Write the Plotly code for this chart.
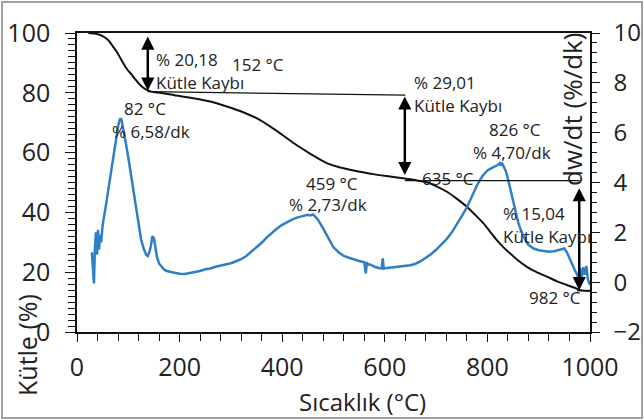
import plotly.graph_objects as go

# ---- data ----
tg_temp = [22, 35, 51, 62, 70, 80, 90, 98, 107, 115, 123, 130, 137, 145, 152, 162, 190, 227, 260, 292,
           325, 357, 390, 422, 455, 487, 513, 552, 577, 610, 639, 660, 682, 700, 721, 740, 760, 776,
           792, 805, 818, 831, 844, 860, 877, 896, 916, 935, 955, 970, 981, 990, 1000]
tg_mass = [100, 99.8, 98.9, 97.4, 95.5, 93.0, 90.0, 87.8, 86.0, 84.2, 82.6, 81.6, 80.9, 80.4, 80.2, 80.0,
           79.2, 78.2, 77.1, 75.4, 73.4, 70.9, 67.2, 63.2, 59.6, 56.5, 55.0, 53.6, 52.8, 52.0, 51.3, 50.8,
           50.1, 48.8, 46.9, 44.6, 41.9, 39.2, 36.4, 33.6, 30.8, 28.4, 26.3, 23.9, 21.8, 20.0, 18.5, 17.0,
           15.7, 14.8, 14.0, 13.8, 13.8]

dtg_temp = [29, 31, 33, 35, 37, 39, 41, 43, 45, 47, 50, 55, 60, 65, 70, 75, 80, 83, 85, 87, 90, 95, 100,
            105, 110, 115, 120, 125, 130, 135, 138, 141, 144, 147, 150, 153, 156, 160, 165, 170, 175, 180,
            190, 200, 210, 220, 230, 240, 250, 260, 270, 280, 290, 300, 310, 320, 330, 340, 350, 360, 370,
            380, 390, 400, 410, 420, 430, 440, 450, 455, 460, 465, 470, 480, 490, 500, 510, 520, 530, 540,
            550, 560, 563, 565, 567, 570, 580, 590, 594, 596, 598, 600, 610, 620, 630, 640, 650, 660, 670,
            680, 690, 700, 710, 720, 730, 740, 750, 760, 770, 780, 790, 800, 810, 815, 820, 824, 826, 828,
            832, 836, 840, 845, 850, 855, 860, 865, 870, 875, 880, 890, 900, 910, 920, 930, 940, 945, 950,
            955, 960, 965, 970, 975, 978, 981, 984, 987, 990, 993, 996, 1000]
dtg_rate = [1.2, 0.6, -0.05, 1.4, 2.0, 1.1, 2.1, 1.3, 1.9, 1.6, 2.3, 2.9, 3.6, 4.3, 5.0, 5.7, 6.25, 6.5,
            6.58, 6.5, 6.2, 5.6, 5.0, 4.3, 3.6, 2.9, 2.2, 1.7, 1.35, 1.1, 1.05, 1.2, 1.45, 1.85, 1.75, 1.35,
            1.0, 0.75, 0.6, 0.5, 0.45, 0.42, 0.38, 0.34, 0.33, 0.37, 0.4, 0.45, 0.52, 0.55, 0.62, 0.66, 0.7,
            0.76, 0.84, 0.92, 1.05, 1.22, 1.4, 1.58, 1.8, 1.98, 2.15, 2.3, 2.42, 2.52, 2.6, 2.66, 2.7, 2.68,
            2.72, 2.62, 2.5, 2.15, 1.75, 1.4, 1.2, 1.05, 0.98, 0.9, 0.85, 0.8, 0.35, 0.8, 0.7, 0.72, 0.62,
            0.56, 0.55, 0.95, 0.55, 0.56, 0.58, 0.6, 0.62, 0.65, 0.68, 0.74, 0.84, 0.98, 1.12, 1.3, 1.5,
            1.72, 1.98, 2.3, 2.65, 3.0, 3.45, 3.9, 4.25, 4.48, 4.6, 4.65, 4.7, 4.78, 4.68, 4.8, 4.62, 4.45,
            4.15, 3.7, 3.2, 2.8, 2.4, 2.1, 1.85, 1.65, 1.5, 1.35, 1.28, 1.25, 1.22, 1.24, 1.28, 1.3, 1.35,
            1.2, 0.95, 0.7, 0.5, 0.3, 0.15, 0.55, 0.2, 0.6, 0.3, 0.65, 0.1, -0.1]

x_ticks = [0, 200, 400, 600, 800, 1000]
y_ticks = [0, 20, 40, 60, 80, 100]
y2_ticks = [-2, 0, 2, 4, 6, 8, 10]

# mass-loss stages: arrow temperature, top and bottom mass, label
stage_temp = [138, 639, 979]
stage_top = [99.3, 79.3, 48.6]
stage_bottom = [80.7, 52.5, 14.0]
stage_loss = ["% 20,18", "% 29,01", "% 15,04"]
stage_label_x = [150, 653, 826]
stage_label_y = [91.3, 83.6, 39.5]
stage_label_y2 = [83.6, 75.9, 31.8]

# reference (level) lines
level_x0 = [138, 639, 975]
level_x1 = [640, 979, 1000]
level_y0 = [80.4, 50.6, 13.8]
level_y1 = [79.2, 50.6, 13.8]

# temperature / peak labels (x, y in mass axis units)
peak_texts = ["152 °C", "82 °C", "% 6,58/dk", "459 °C", "% 2,73/dk", "826 °C", "% 4,70/dk", "635 °C", "982 °C"]
peak_x = [353, 133, 144, 497, 489, 854, 848, 723, 932]
peak_y = [89.6, 74.9, 66.9, 49.8, 42.5, 67.6, 59.9, 51.5, 11.4]

FONT = "Open Sans"
TXT = "#222222"
ANN = 17
W, H = 644, 420

fig = go.Figure()
fig.add_trace(go.Scatter(x=dtg_temp, y=dtg_rate, mode="lines", yaxis="y2",
                         line=dict(color="#2f7fc6", width=2.5), showlegend=False))
fig.add_trace(go.Scatter(x=tg_temp, y=tg_mass, mode="lines",
                         line=dict(color="#111111", width=2, shape="spline", smoothing=0.6),
                         showlegend=False))

shapes = []
for i in range(len(level_x0)):
    shapes.append(dict(type="line", xref="x", yref="y", x0=level_x0[i], x1=level_x1[i],
                       y0=level_y0[i], y1=level_y1[i], line=dict(color="#111111", width=1.3)))
# outer frame (paper == whole figure, margins are zero)
shapes.append(dict(type="rect", xref="paper", yref="paper", x0=2 / W, x1=1 - 2 / W, y0=2 / H, y1=1 - 2 / H,
                   line=dict(color="#a0a0a0", width=2)))

annotations = []
for i in range(len(stage_temp)):
    annotations.append(dict(x=stage_temp[i], y=stage_bottom[i], ax=stage_temp[i], ay=stage_top[i],
                            xref="x", yref="y", axref="x", ayref="y", text="", showarrow=True,
                            arrowhead=2, startarrowhead=2, arrowside="end+start", arrowsize=1.05,
                            startarrowsize=1.05, arrowwidth=2.5, arrowcolor="#000000",
                            standoff=0, startstandoff=0))
    annotations.append(dict(x=stage_label_x[i], y=stage_label_y[i], xref="x", yref="y", text=stage_loss[i],
                            showarrow=False, xanchor="left", yanchor="middle",
                            font=dict(family=FONT, size=ANN, color=TXT)))
    annotations.append(dict(x=stage_label_x[i], y=stage_label_y2[i], xref="x", yref="y", text="Kütle Kaybı",
                            showarrow=False, xanchor="left", yanchor="middle",
                            font=dict(family=FONT, size=ANN, color=TXT)))
for t, xx, yy in zip(peak_texts, peak_x, peak_y):
    annotations.append(dict(x=xx, y=yy, xref="x", yref="y", text=t, showarrow=False,
                            xanchor="center", yanchor="middle", font=dict(family=FONT, size=ANN, color=TXT)))

# axis titles (paper coordinates = whole figure)
annotations.append(dict(x=362 / W, y=1 - 401 / H, xref="paper", yref="paper", text="Sıcaklık (°C)",
                        showarrow=False, xanchor="center", yanchor="middle",
                        font=dict(family=FONT, size=24, color=TXT)))
annotations.append(dict(x=27 / W, y=1 - 345 / H, xref="paper", yref="paper", text="Kütle (%)",
                        showarrow=False, textangle=-90, xanchor="center", yanchor="middle",
                        font=dict(family=FONT, size=25, color=TXT)))
annotations.append(dict(x=572 / W, y=1 - 110 / H, xref="paper", yref="paper", text="dw/dt (%/dk)",
                        showarrow=False, textangle=-90, xanchor="center", yanchor="middle",
                        font=dict(family=FONT, size=26, color=TXT)))

fig.update_layout(
    width=W, height=H, autosize=False,
    margin=dict(l=0, r=0, t=0, b=0, pad=0),
    paper_bgcolor="white", plot_bgcolor="white",
    font=dict(family=FONT, color=TXT),
    shapes=shapes, annotations=annotations,
    xaxis=dict(domain=[77 / W, 590 / W], range=[0, 1000], tickvals=x_ticks, ticks="outside", ticklen=8,
               tickwidth=1.3, tickcolor="#111",
               minor=dict(dtick=40, tick0=0, ticks="outside", ticklen=7, tickwidth=1.3, tickcolor="#111"),
               showline=True, linecolor="#111", linewidth=1.5, mirror=True, showgrid=False, zeroline=False,
               tickfont=dict(family=FONT, size=25, color=TXT), ticklabelstandoff=4, automargin=False),
    yaxis=dict(domain=[1 - 332 / H, 1 - 33 / H], range=[0, 100], tickvals=y_ticks, ticks="outside", ticklen=10,
               tickwidth=1.3, tickcolor="#111",
               minor=dict(dtick=2, tick0=0, ticks="outside", ticklen=7, tickwidth=1, tickcolor="#111"),
               showline=True, linecolor="#111", linewidth=1.5, showgrid=False, zeroline=False,
               tickfont=dict(family=FONT, size=25, color=TXT), ticklabelstandoff=10, automargin=False),
    yaxis2=dict(range=[-2, 10], tickvals=y2_ticks, overlaying="y", side="right", ticks="outside", ticklen=8,
                tickwidth=1.3, tickcolor="#111",
                minor=dict(dtick=0.4, tick0=0, ticks="outside", ticklen=5, tickwidth=1, tickcolor="#111"),
                showline=True, linecolor="#111", linewidth=1.5, showgrid=False, zeroline=False,
                tickfont=dict(family=FONT, size=24, color=TXT), ticklabelstandoff=9, automargin=False),
)

fig.write_html("out.html", config={"responsive": False, "displayModeBar": False},
               post_script="document.body.style.margin='0';document.body.style.overflow='hidden';")
